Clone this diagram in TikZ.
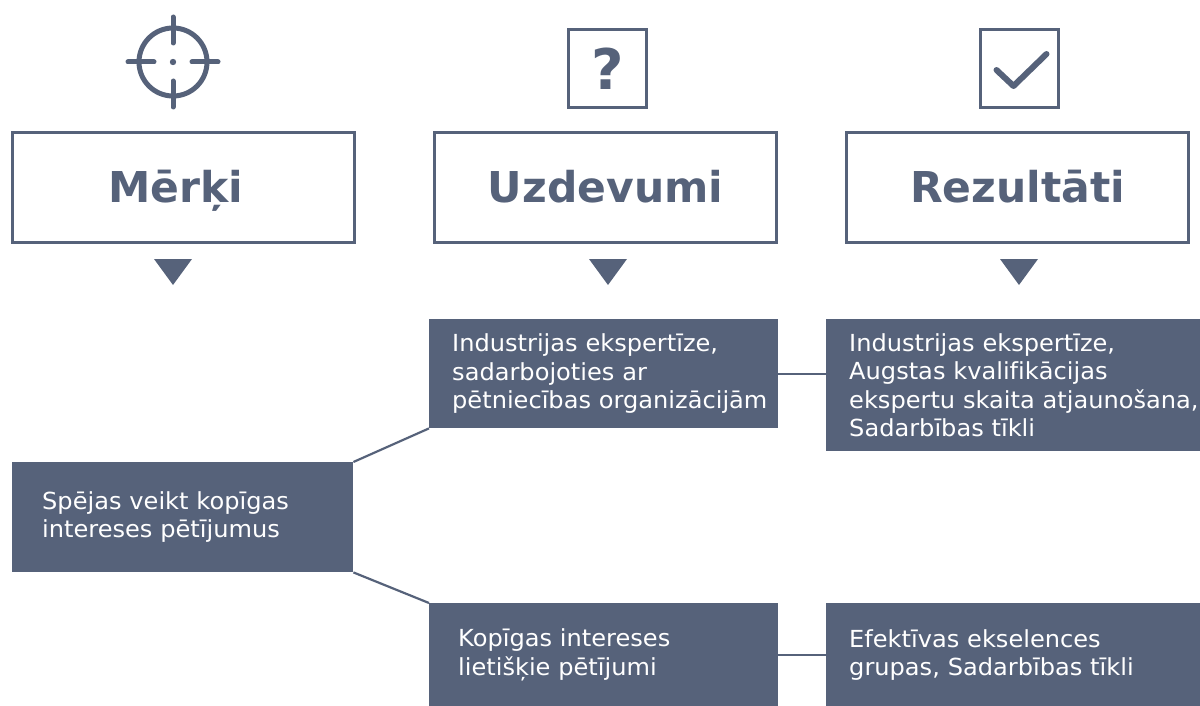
\documentclass[tikz,border=0pt]{standalone}
\usepackage{fontspec}
\setmainfont{DejaVu Sans}
\newfontfamily\bodyfont[FakeStretch=1.025, Ligatures=NoCommon]{DejaVu Sans}
\usetikzlibrary{calc}
\hyphenpenalty=10000
\hbadness=10000
\hfuzz=200pt
\definecolor{slate}{RGB}{86,98,122}
\tikzset{
  hdr/.style={draw=slate, line width=3pt, fill=white, minimum width=342pt, minimum height=110pt, anchor=north west, inner sep=0pt,
    text=slate, text height=31pt, text depth=0pt, font=\fontsize{42.5}{48}\selectfont\bfseries},
  dark/.style={fill=slate, text=white, anchor=north west, align=left, inner ysep=0pt,
    font=\bodyfont\fontsize{23.5}{28.3}\selectfont},
  tri/.style={fill=slate, draw=none},
  conn/.style={draw=slate, line width=2.2pt},
  ico/.style={draw=slate, line width=5pt, line cap=round},
  icobox/.style={draw=slate, line width=3pt, minimum width=78pt, minimum height=78pt, anchor=north west, inner sep=0pt}
}
\begin{document}
\begin{tikzpicture}[x=1pt, y=-1pt]
\useasboundingbox (0,0) rectangle (1200,706);
% icons
\draw[ico] (173,62) circle (34);
\draw[ico] (173,17) -- (173,43);
\draw[ico] (173,81) -- (173,107);
\draw[ico] (128,62) -- (154,62);
\draw[ico] (192,62) -- (218,62);
\fill[slate] (173,62) circle (3.2);
\node[icobox] (qbox) at (567,28) {};
\node[text=slate, inner sep=0pt, text height=41pt, text depth=0pt, font=\fontsize{56}{60}\selectfont\bfseries] (qmark) at ($(qbox.center)+(0,1)$) {?};
\node[icobox] (cbox) at (979,28) {};
\draw[draw=slate, line width=6pt, line cap=round, line join=round] ($(cbox.center)+(-23,1.5)$) -- ($(cbox.center)+(-6,17.5)$) -- ($(cbox.center)+(27,-14.5)$);
% headers
\node[hdr] (h1) at (11,131) {Mērķi\kern16pt};
\node[hdr] (h2) at (433,131) {Uzdevumi};
\node[hdr] (h3) at (845,131) {Rezultāti};
% triangles
\fill[tri] (154,259) -- (192,259) -- (173,285) -- cycle;
\fill[tri] (589,259) -- (627,259) -- (608,285) -- cycle;
\fill[tri] (1000,259) -- (1038,259) -- (1019,285) -- cycle;
% dark boxes
\node[dark, minimum width=349pt, minimum height=109pt, text width=303pt, inner xsep=23pt] (u1) at (429,319)
  {Industrijas~ekspertīze,\\sadarbojoties~ar\\pētniecības~organizācijām};
\node[dark, minimum width=380pt, minimum height=132pt, text width=334pt, inner xsep=23pt] (r1) at (826,319)
  {Industrijas~ekspertīze,\\Augstas~kvalifikācijas\\ekspertu~skaita~atjaunošana,\\Sadarbības~tīkli};
\node[dark, minimum width=341pt, minimum height=110pt, text width=281pt, inner xsep=30pt] (m) at (12,462)
  {Spējas~veikt~kopīgas\\intereses~pētījumus};
\node[dark, minimum width=349pt, minimum height=103pt, text width=291pt, inner xsep=29pt] (u2) at (429,603)
  {Kopīgas~intereses\\lietišķie~pētījumi};
\node[dark, minimum width=380pt, minimum height=103pt, text width=334pt, inner xsep=23pt] (r2) at (826,603)
  {Efektīvas~ekselences\\grupas,~Sadarbības~tīkli};
% connectors
\draw[conn] (m.north east) -- (u1.south west);
\draw[conn] (m.south east) -- (u2.north west);
\draw[conn] (u1.east) -- (r1.west |- u1.east);
\draw[conn] (u2.east) -- (r2.west |- u2.east);
\end{tikzpicture}
\end{document}
